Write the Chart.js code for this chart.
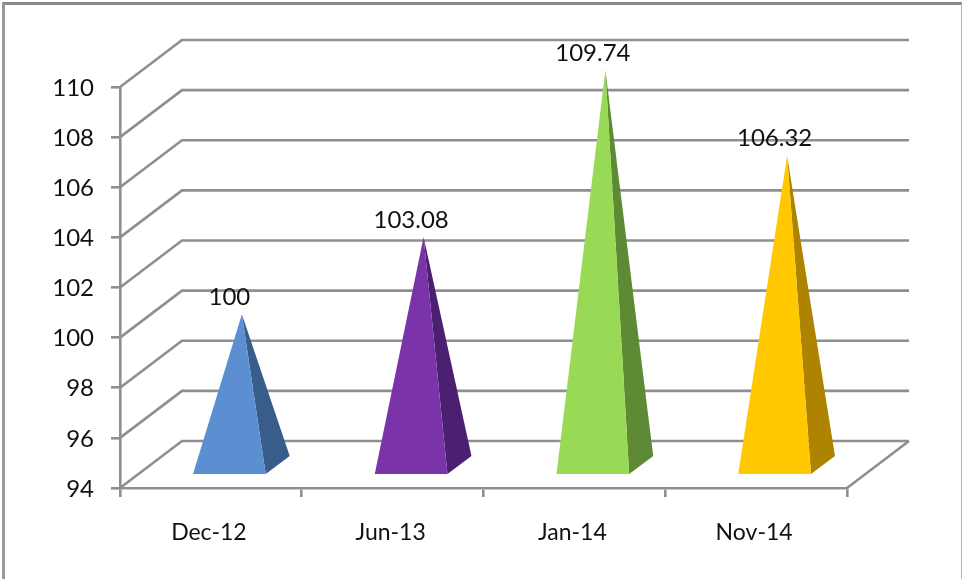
<!DOCTYPE html>
<html>
<head>
<meta charset="utf-8">
<title>Index</title>
<script src="https://cdn.jsdelivr.net/npm/chart.js@4"></script>
<style>
  body { margin: 0; background: #fff; overflow: hidden; }
  #wrap { position: relative; width: 963px; height: 579px; }
  #frame { position: absolute; left: 2px; top: 2px; right: 1px; bottom: -10px;
    border-top: 3px solid #8a8a8a; border-left: 3px solid #999; border-right: 1px solid #b5b5b5; }
  canvas { position: absolute; left: 0; top: 0; }
</style>
</head>
<body>
<div id="wrap">
  <div id="frame"></div>
  <canvas id="graph" width="963" height="579"></canvas>
</div>
<script>
const categories = ['Dec-12', 'Jun-13', 'Jan-14', 'Nov-14']
const values = [100, 103.08, 109.74, 106.32]
const frontColors = ['#5b8fd1', '#7a33a8', '#98d955', '#ffc800']
const sideColors = ['#385d8a', '#4c2070', '#5f8a35', '#ae8300']

const fontFamily = 'Lato, "Open Sans", sans-serif'
const gridColor = '#8f8f8f'
const textColor = '#111'

// depth of the fake 3d box
const wallDx = 62
const wallDy = -47

// draws the walls and floor behind the pyramids
const walls = {
  id: 'walls',
  beforeDatasetsDraw(chart) {
    let ctx = chart.ctx
    let area = chart.chartArea
    let y = chart.scales.y
    ctx.save()
    ctx.strokeStyle = gridColor
    ctx.lineWidth = 2.6
    ctx.lineJoin = 'miter'
    for(let tick of y.ticks) {
      let py = y.getPixelForValue(tick.value)
      ctx.beginPath()
      ctx.moveTo(area.left, py)
      ctx.lineTo(area.left + wallDx, py + wallDy)
      ctx.lineTo(area.right + wallDx, py + wallDy)
      ctx.stroke()
    }
    ctx.beginPath()
    ctx.moveTo(area.right, area.bottom)
    ctx.lineTo(area.right + wallDx, area.bottom + wallDy)
    ctx.stroke()
    ctx.restore()
  }
}

// turns each (invisible) bar into a pyramid and puts its value on top
const pyramids = {
  id: 'pyramids',
  afterDatasetsDraw(chart) {
    let ctx = chart.ctx
    let bottom = chart.scales.y.getPixelForValue(chart.scales.y.min)
    let bars = chart.getDatasetMeta(0).data
    bars.forEach((bar, i) => {
      let half = bar.width / 2
      let frontX = bar.x + 18.5
      let frontY = bottom - 14
      let apexX = bar.x + wallDx / 2
      let apexY = bar.y + wallDy / 2

      ctx.fillStyle = sideColors[i]
      ctx.beginPath()
      ctx.moveTo(frontX + half, frontY)
      ctx.lineTo(frontX + half + 24, frontY - 18)
      ctx.lineTo(apexX, apexY)
      ctx.closePath()
      ctx.fill()

      ctx.fillStyle = frontColors[i]
      ctx.beginPath()
      ctx.moveTo(frontX - half, frontY)
      ctx.lineTo(frontX + half, frontY)
      ctx.lineTo(apexX, apexY)
      ctx.closePath()
      ctx.fill()

      ctx.fillStyle = textColor
      ctx.font = '24px ' + fontFamily
      ctx.textAlign = 'center'
      ctx.textBaseline = 'middle'
      ctx.fillText(String(values[i]), frontX, apexY - 17)
    })
  }
}

new Chart(document.getElementById('graph'), {
  type: 'bar',
  data: {
    labels: categories,
    datasets: [{
      data: values,
      backgroundColor: 'transparent',
      barPercentage: 0.4,
      categoryPercentage: 1
    }]
  },
  options: {
    responsive: false,
    animation: false,
    layout: { padding: { top: 87, right: 116, left: 0, bottom: 0 } },
    plugins: { legend: { display: false }, tooltip: { enabled: false } },
    scales: {
      x: {
        afterFit(scale) { scale.height = 91 },
        grid: { drawOnChartArea: false, tickLength: 9, color: gridColor, lineWidth: 2.6 },
        border: { color: gridColor, width: 2.6 },
        ticks: { color: textColor, padding: 22, labelOffset: -2, maxRotation: 0, font: { family: fontFamily, size: 23 } }
      },
      y: {
        min: 94,
        max: 110,
        afterFit(scale) { scale.width = 120 },
        grid: { drawOnChartArea: false, tickLength: 9, color: gridColor, lineWidth: 2.6 },
        border: { color: gridColor, width: 2.6 },
        ticks: { stepSize: 2, color: textColor, padding: 17, labelOffset: 1, font: { family: fontFamily, size: 24 } }
      }
    }
  },
  plugins: [walls, pyramids]
})
</script>
</body>
</html>
